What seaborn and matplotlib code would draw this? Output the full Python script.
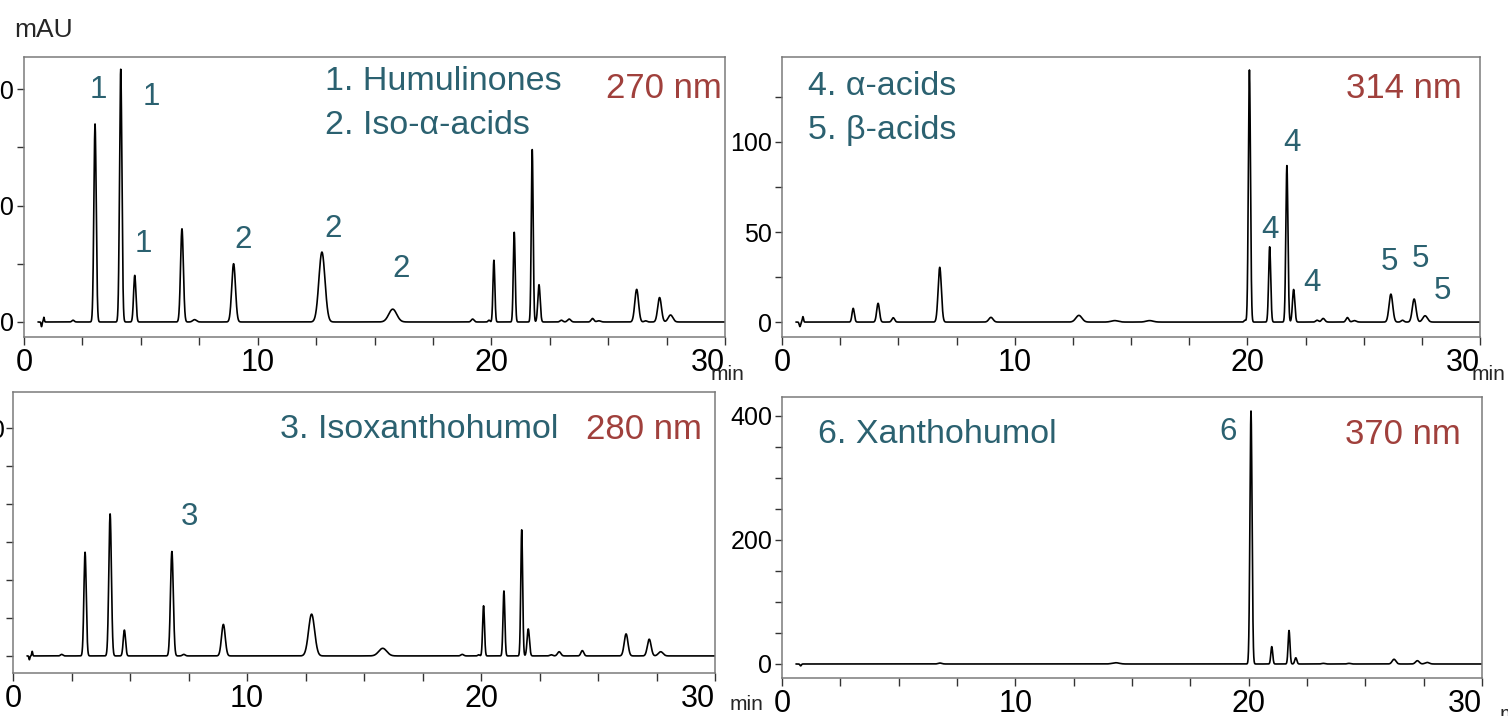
import numpy as np
import pandas as pd
import matplotlib
matplotlib.use("Agg")
import matplotlib.pyplot as plt
import seaborn as sns
from matplotlib.ticker import MultipleLocator, FixedLocator

TEAL = '#2b6170'
RED = '#a0403c'
W, H = 1508, 716

# peak tables: retention time (min), height (mAU), width (sigma, min)
rt_270 = [0.75, 0.85, 2.1, 3.04, 4.14, 4.74, 6.76, 7.3, 8.97, 12.75, 15.78, 19.2, 19.9, 20.11,
          20.98, 21.75, 22.04, 23.0, 23.33, 24.33, 24.6, 26.22, 26.6, 27.2, 27.67]
h_270 = [-4, 4, 1.5, 170, 217, 40, 80, 2, 50, 60, 11, 2.5, 1.5, 53,
         77, 148, 32, 1.5, 2.5, 3, 1, 28, 1, 21, 6]
w_270 = [0.02, 0.02, 0.05, 0.05, 0.05, 0.05, 0.06, 0.08, 0.08, 0.13, 0.17, 0.06, 0.04, 0.04,
         0.04, 0.04, 0.05, 0.06, 0.07, 0.06, 0.08, 0.08, 0.06, 0.08, 0.1]

rt_314 = [0.77, 0.9, 3.06, 4.13, 4.78, 6.78, 8.98, 12.76, 14.3, 15.8, 19.9, 20.09, 20.96,
          21.7, 21.99, 23.0, 23.26, 24.3, 24.6, 26.17, 26.67, 27.17, 27.64]
h_314 = [-2.5, 3, 7.6, 10.4, 2.4, 30.4, 2.6, 3.7, 0.8, 0.8, 1, 140, 41.8,
         86.9, 18.1, 1, 2, 2.5, 0.8, 15.5, 1, 12.8, 3.5]
w_314 = [0.03, 0.025, 0.05, 0.06, 0.06, 0.07, 0.09, 0.13, 0.15, 0.15, 0.04, 0.045, 0.045,
         0.045, 0.05, 0.06, 0.07, 0.06, 0.08, 0.08, 0.06, 0.08, 0.1]

rt_280 = [0.7, 0.82, 2.08, 3.08, 4.15, 4.76, 6.79, 7.3, 8.99, 12.76, 15.8, 19.2, 19.9, 20.11,
          20.98, 21.74, 22.02, 23.0, 23.34, 24.33, 26.2, 27.19, 27.68]
h_280 = [-1, 1.2, 0.4, 27.3, 37.4, 6.8, 27.5, 0.4, 8.3, 11, 2, 0.4, 0.3, 13.2,
         17.1, 33.2, 7.1, 0.3, 1.1, 1.4, 5.8, 4.4, 1.1]
w_280 = [0.02, 0.02, 0.05, 0.05, 0.055, 0.05, 0.06, 0.06, 0.08, 0.13, 0.17, 0.06, 0.04, 0.04,
         0.04, 0.04, 0.05, 0.06, 0.07, 0.06, 0.08, 0.08, 0.1]

rt_370 = [0.8, 6.77, 14.3, 20.1, 20.99, 21.73, 22.02, 23.2, 24.3, 26.23, 27.23, 27.65]
h_370 = [-3, 1.5, 2, 408, 28, 54, 10, 1, 1, 7.6, 5.3, 2.5]
w_370 = [0.03, 0.08, 0.15, 0.045, 0.04, 0.04, 0.045, 0.07, 0.07, 0.08, 0.08, 0.09]

x_tick_labels = ['0', '10', '20', '30']


def trace(rt, h, w):
    t = np.linspace(0.6, 30, 5881)
    y = np.zeros_like(t)
    for r, a, s in zip(rt, h, w):
        y += a * np.exp(-0.5 * ((t - r) / s) ** 2)
    return pd.DataFrame({'time': t, 'mAU': y})


def px_rect(left, right, top, bottom):
    return [left / W, (H - bottom) / H, (right - left) / W, (bottom - top) / H]


sns.set_style("white")
plt.rcParams['font.family'] = ['Liberation Sans', 'DejaVu Sans']

fig = plt.figure(figsize=(W / 100, H / 100), dpi=100)

panels = [
    dict(rect=px_rect(24, 725, 57, 337), data=(rt_270, h_270, w_270), ylim=(-12.9, 227.5),
         yticks=[0, 50, 100, 150, 200], ylabels=['0', '', '100', '', '200'], ypad=2,
         legend=['1. Humulinones', '2. Iso-α-acids'], leg_x=0.429, leg_y=[0.911, 0.754],
         nm='270 nm', nm_x=0.996, nm_y=0.886,
         peaks=[('1', 3.17, 199), ('1', 5.43, 193), ('1', 5.09, 67),
                ('2', 9.37, 70), ('2', 13.22, 80), ('2', 16.13, 45.5)],
         min_xy=(711, 375)),
    dict(rect=px_rect(782, 1480, 57, 337), data=(rt_314, h_314, w_314), ylim=(-8.3, 147.2),
         yticks=[0, 25, 50, 75, 100, 125], ylabels=['0', '', '50', '', '100', ''], ypad=2,
         legend=['4. α-acids', '5. β-acids'], leg_x=0.037, leg_y=[0.893, 0.739],
         nm='314 nm', nm_x=0.974, nm_y=0.886,
         peaks=[('4', 21.92, 99.4), ('4', 20.97, 51), ('4', 22.78, 21.7),
                ('5', 26.09, 33.3), ('5', 27.42, 35), ('5', 28.4, 17.2)],
         min_xy=(1472, 374)),
    dict(rect=px_rect(13, 715, 392, 673), data=(rt_280, h_280, w_280), ylim=(-4.5, 69.5),
         yticks=[0, 10, 20, 30, 40, 50, 60], ylabels=['', '', '', '', '', '', '60'], ypad=0,
         legend=['3. Isoxanthohumol'], leg_x=0.380, leg_y=[0.865],
         nm='280 nm', nm_x=0.981, nm_y=0.865,
         peaks=[('3', 7.56, 36.6)],
         min_xy=(730, 705)),
    dict(rect=px_rect(782, 1482, 397, 678), data=(rt_370, h_370, w_370), ylim=(-22.6, 430.6),
         yticks=[0, 50, 100, 150, 200, 250, 300, 350, 400],
         ylabels=['0', '', '', '', '200', '', '', '', '400'], ypad=2,
         legend=['6. Xanthohumol'], leg_x=0.051, leg_y=[0.865],
         nm='370 nm', nm_x=0.969, nm_y=0.868,
         peaks=[('6', 19.12, 374)],
         min_xy=(1500, 714)),
]

for p in panels:
    ax = fig.add_axes(p['rect'])
    df = trace(*p['data'])
    sns.lineplot(data=df, x='time', y='mAU', color='black', linewidth=1.2,
                 estimator=None, sort=False, ax=ax)
    ax.set_xlim(0, 30)
    ax.set_ylim(*p['ylim'])
    ax.set_xlabel('')
    ax.set_ylabel('')

    ax.xaxis.set_major_locator(FixedLocator([0, 10, 20, 30]))
    ax.xaxis.set_minor_locator(MultipleLocator(2.5))
    ax.set_xticklabels(x_tick_labels)
    ax.yaxis.set_major_locator(FixedLocator(p['yticks']))
    ax.set_yticklabels(p['ylabels'])
    ax.tick_params(axis='x', which='both', direction='out', length=6, width=1,
                   color='#333333', labelcolor='black', labelsize=22, pad=2, bottom=True)
    ax.tick_params(axis='y', which='both', direction='out', length=5, width=1,
                   color='#333333', labelcolor='black', labelsize=18, pad=p['ypad'], left=True)
    ax.get_xticklabels()[-1].set_horizontalalignment('right')

    for s in ax.spines.values():
        s.set_visible(True)
        s.set_color('#7a7a7a')
        s.set_linewidth(1.1)

    for txt, yy in zip(p['legend'], p['leg_y']):
        ax.text(p['leg_x'], yy, txt, transform=ax.transAxes, color=TEAL,
                fontsize=24.5, ha='left', va='center')
    ax.text(p['nm_x'], p['nm_y'], p['nm'], transform=ax.transAxes, color=RED,
            fontsize=25, ha='right', va='center')
    for lab, px, py in p['peaks']:
        ax.text(px, py, lab, color=TEAL, fontsize=22.5, ha='center', va='center')

    mx, my = p['min_xy']
    fig.text(mx / W, (H - my) / H, 'min', fontsize=15, ha='left', va='center')

fig.text(14 / W, (H - 30) / H, 'mAU', fontsize=19, ha='left', va='center')

plt.savefig('out.png', dpi=100)
plt.close()
